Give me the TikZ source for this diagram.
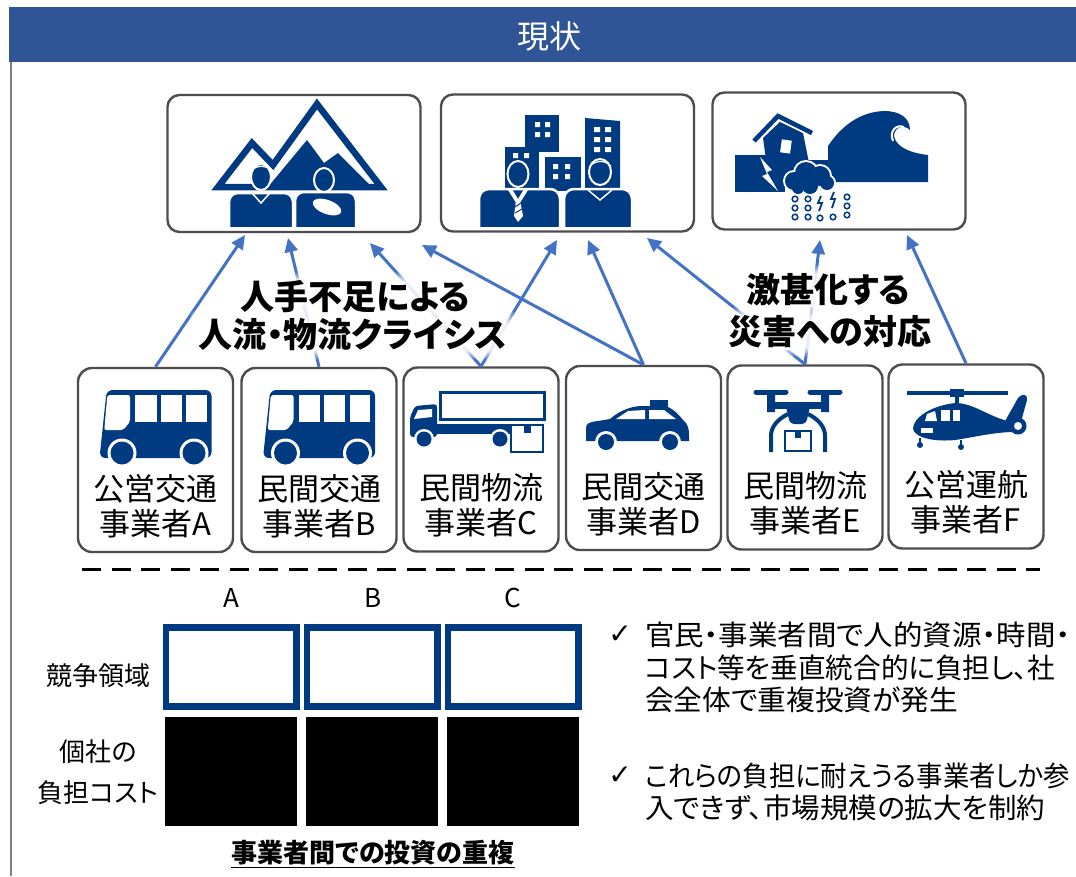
\documentclass[tikz,border=0pt]{standalone}
\usepackage{graphicx}
\usepackage{fontspec}
\setmainfont{Noto Sans CJK JP}[RawFeature=+palt]
\newfontfamily\halofont{Noto Sans CJK JP Bold}[FakeBold=12,RawFeature=+palt]
\newfontfamily\symfont{DejaVu Sans}
\usetikzlibrary{arrows.meta,calc}

\definecolor{bandblue}{RGB}{47,85,151}
\definecolor{navy}{RGB}{0,58,128}
\definecolor{linkblue}{RGB}{68,114,196}
\definecolor{framegray}{RGB}{77,77,77}
\definecolor{railgray}{RGB}{128,128,128}

\pgfdeclarelayer{glow}
\pgfdeclarelayer{caption}
\pgfsetlayers{main,glow,caption}

% bold caption over a fattened white copy, so the arrows fade out behind it
\newcommand\haloed[3]{%
  \node[crisis] (#1) at (#2) {\rlap{\mdseries\halofont\color{white}#3}#3};%
}
% one line of running text set to a given measure
\newcommand\measured[2]{\resizebox{#1}{\height}{#2}}

\tikzset{
  panel/.style={draw=framegray, line width=2.4pt, rounded corners=12pt,
    minimum width=253pt, minimum height=137pt, inner sep=0pt},
  firm/.style={draw=framegray, line width=2.4pt, rounded corners=14pt,
    minimum width=155pt, minimum height=184pt, inner sep=0pt},
  firmtext/.style={font=\fontsize{31}{35}\selectfont, align=center, inner sep=0pt},
  link/.style={draw=linkblue, line width=3pt, -{Triangle[length=14pt,width=13pt]}},
  crisis/.style={font=\bfseries\fontsize{34}{40}\selectfont, inner sep=0pt},
  small/.style={font=\fontsize{26}{30}\selectfont, inner sep=0pt},
  note/.style={font=\fontsize{28}{30}\selectfont, inner sep=0pt, anchor=west},
  tick/.style={font=\symfont\fontsize{28}{30}\selectfont, inner sep=0pt},
  bus/.pic={
    \fill[navy, rounded corners=6pt] (-48.8,-34) -- (56,-34) -- (56,34) -- (-56,34) -- cycle;
    \fill[white, rounded corners=2pt] (-48.2,-29) -- (-25.5,-29) -- (-25.5,-2.3) -- (-32.2,6) -- (-51.2,6) -- cycle;
    \fill[white] (-20.5,-29) rectangle (1.2,-2.3);
    \fill[white] (5.2,-29) rectangle (26.2,-2.3);
    \fill[white] (30.5,-29) rectangle (51.2,-2.3);
    \fill[white] (-33.5,29) circle (14.5pt) (38.5,29) circle (14.5pt);
    \fill[navy] (-33.5,29) circle (11.5pt) (38.5,29) circle (11.5pt);
  }
}

\begin{document}
\begin{tikzpicture}[x=1pt,y=-1pt]
\useasboundingbox (0,0) rectangle (1076,876);
\fill[white] (0,0) rectangle (1076,876);

% title band and left rail
\fill[bandblue] (9,7) rectangle (1076,62);
\node[text=white, font=\fontsize{32}{36}\selectfont, inner sep=0pt] (title) at (549,36) {現状};
\draw[railgray, line width=2pt] (11,62) -- (11,876);

% upper panels
\node[panel] (mount) at (294,163.5) {};
\node[panel] (city) at (567.5,163) {};
\node[panel] (hazard) at (839,161) {};

% mountains with residents
\draw[navy, line width=6.5pt, line join=miter] (218,187) -- (252,143) -- (273,165) -- (317,104) -- (381,187) -- cycle;
\fill[navy] (268,187) -- (307,140) -- (324,163) -- (338,153) -- (372,187) -- cycle;
\begin{scope}
  \clip (200,140) rectangle (400,226);
  \fill[navy, draw=white, line width=2.5pt, rounded corners=9pt] (229,193) rectangle (293,245);
  \fill[navy, draw=white, line width=2pt] (261,177) ellipse (10pt and 13pt);
  \draw[white, line width=1.2pt] (252,170) .. controls (257,165) and (265,165) .. (271,170);
  \draw[white, line width=1.5pt] (252,193) -- (261,203) -- (270,193);
  \fill[navy, draw=white, line width=2.5pt, rounded corners=9pt] (295,192) rectangle (356,245);
  \fill[navy, draw=white, line width=2pt] (324,180) ellipse (10pt and 12pt);
  \fill[white, rotate around={-20:(327,207)}] (327,207) ellipse (15pt and 7pt);
\end{scope}

% office towers with workers
\fill[navy] (525,115) rectangle (559,152);
\fill[white] (535,122) rectangle (540,127) (545,122) rectangle (550,127)
             (535,132) rectangle (540,137) (545,132) rectangle (550,137);
\fill[navy] (585,118) -- (620,121) -- (620,191) -- (585,191) -- cycle;
\foreach \r in {127,137,147}
  \fill[white] (594,\r) rectangle (600,\r+5) (605,\r) rectangle (611,\r+5);
\fill[navy] (505,147) rectangle (539,191);
\fill[white] (513,153) rectangle (518,158) (524,153) rectangle (529,158);
\fill[navy] (545,157) rectangle (581,191);
\fill[white] (553,164) rectangle (558,169) (565,164) rectangle (570,169)
             (553,174) rectangle (558,179) (565,174) rectangle (570,179);
\begin{scope}
  \clip (470,140) rectangle (640,226);
  \fill[navy, draw=white, line width=2.5pt, rounded corners=10pt] (479,189) rectangle (560,245);
  \fill[navy, draw=white, line width=2pt] (518,174) ellipse (10.5pt and 13pt);
  \fill[white] (508,190) -- (518,206) -- (528,190) -- (524,189) -- (518,199) -- (512,189) -- cycle;
  \fill[white] (516,200) -- (520,200) -- (523,216) -- (518,222) -- (514,216) -- cycle;
  \draw[navy, line width=1pt] (515,207) -- (521,203) (515,213) -- (522,209);
  \fill[navy, draw=white, line width=2.5pt, rounded corners=10pt] (564,189) rectangle (632,245);
  \fill[navy, draw=white, line width=2pt] (600,172) ellipse (11pt and 13pt);
  \draw[white, line width=1.2pt] (590,166) .. controls (596,160) and (605,160) .. (611,166);
  \draw[white, line width=1.5pt] (588,190) -- (600,200) -- (612,190);
\end{scope}

% quake, storm and tsunami
\fill[navy] (735,155) rectangle (785,192);
\fill[navy] (785,160) rectangle (830,182);
\fill[navy] (828,182) -- (828,146) .. controls (840,128) and (858,112) .. (884,111)
  .. controls (900,111) and (910,118) .. (910,130)
  .. controls (904,124) and (894,127) .. (894,136)
  .. controls (896,147) and (910,153) .. (928,155) -- (928,182) -- cycle;
\draw[white, line width=2pt] (904,127) .. controls (896,124) and (889,131) .. (893,141);
\fill[navy] (763,138) -- (780,122) -- (803,133) -- (810,168) -- (768,174) -- cycle;
\draw[white, line width=8pt] (754,141) -- (778,116) -- (812,133);
\draw[navy, line width=4.5pt] (754,141) -- (778,116) -- (812,133);
\fill[white, rotate around={-8:(786,146)}] (781,140) rectangle (791,153);
\fill[white] (760,157) -- (772,170) -- (767,172) -- (778,191) -- (762,176) -- (767,174) -- cycle;
\foreach \cx/\cy/\cr in {794/181/9, 806/173/11, 820/176/10, 827/183/7, 810/186/8, 798/188/6}
  \fill[white] (\cx,\cy) circle (\cr pt + 2pt);
\foreach \cx/\cy/\cr in {794/181/9, 806/173/11, 820/176/10, 827/183/7, 810/186/8, 798/188/6}
  \fill[navy] (\cx,\cy) circle (\cr pt);
\foreach \dx/\dy in {795/199, 795/208, 795/217, 808/199, 808/208, 808/217, 820/218, 833/217, 847/197, 847/206, 847/215}
  \draw[navy, line width=1.5pt, fill=white] (\dx,\dy) circle (2.8pt);
\draw[navy, line width=1.8pt] (821,196) -- (818,203) -- (822,203) -- (819,211);
\draw[navy, line width=1.8pt] (834,192) -- (831,199) -- (835,199) -- (832,208);

% operators
\node[firm] (fa) at (155.5,460) {};
\node[firm] (fb) at (319,460) {};
\node[firm] (fc) at (481,459.5) {};
\node[firm] (fd) at (643.5,458) {};
\node[firm] (fe) at (805,457.5) {};
\node[firm] (ff) at (966,456.5) {};

\node[firmtext] (la) at ($(fa.center)+(0,46)$) {公営交通\\事業者A};
\node[firmtext] (lb) at ($(fb.center)+(0,46)$) {民間交通\\事業者B};
\node[firmtext] (lc) at ($(fc.center)+(0,46)$) {民間物流\\事業者C};
\node[firmtext] (ld) at ($(fd.center)+(0,46)$) {民間交通\\事業者D};
\node[firmtext] (le) at ($(fe.center)+(0,46)$) {民間物流\\事業者E};
\node[firmtext] (lf) at ($(ff.center)+(0,46)$) {公営運航\\事業者F};

% buses
\pic at ($(fa.center)+(0,-36)$) {bus};
\pic at ($(fb.center)+(0,-36)$) {bus};

% truck with parcel
\draw[navy, line width=3pt] (440,392) rectangle (544,419);
\fill[navy] (436,424) rectangle (512,434);
\fill[navy, rounded corners=3pt] (410,437) -- (410,417) -- (415,406) -- (437,404) -- (437,437) -- cycle;
\fill[white] (414,419) -- (418,410) -- (432,409) -- (432,417) -- cycle;
\fill[white] (424,439) circle (10pt) (500,439) circle (10pt);
\fill[navy] (424,439) circle (7.5pt) (500,439) circle (7.5pt);
\draw[navy, line width=2.5pt, fill=white] (511,425) rectangle (543,452);
\fill[navy] (524,425) rectangle (531,433);

% taxi
\fill[navy] (586,441) -- (586,428) .. controls (586,423) and (590,422) .. (598,421) -- (610,419)
  .. controls (618,412) and (628,407) .. (640,406) -- (664,406)
  .. controls (672,407) and (678,414) .. (684,421)
  .. controls (688,424) and (689,430) .. (689,434) -- (689,441) -- cycle;
\fill[navy] (650,400) rectangle (668,407);
\fill[white] (616,419) -- (628,411) -- (645,410) -- (645,419) -- cycle;
\fill[white] (649,410) -- (664,410) -- (676,419) -- (649,419) -- cycle;
\fill[white] (606,442) circle (11pt) (670,442) circle (11pt);
\fill[navy] (606,442) circle (8pt) (670,442) circle (8pt);

% delivery drone
\draw[navy, line width=5pt, line cap=round] (756,392) -- (786,392) (810,392) -- (840,392);
\fill[navy] (767,391) rectangle (775,412) (821,391) rectangle (829,412);
\fill[navy] (767,402) rectangle (829,409);
\fill[navy, rounded corners=4pt] (785,402) -- (811,402) -- (806,424) -- (790,424) -- cycle;
\draw[navy, line width=4pt] (788,414) .. controls (776,420) and (771,428) .. (771,436) -- (771,452);
\draw[navy, line width=4pt] (808,414) .. controls (820,420) and (825,428) .. (825,436) -- (825,452);
\draw[navy, line width=2.8pt, fill=white] (785,431) rectangle (811,451);
\fill[navy] (795,431) rectangle (801,438);

% helicopter
\draw[navy, line width=4pt] (907,393) -- (1008,393);
\fill[navy] (950,389) rectangle (964,397);
\fill[navy] (955,397) rectangle (959,405);
\fill[navy] (913,429) .. controls (913,418) and (930,406) .. (955,403)
  .. controls (972,403) and (985,414) .. (1004,420) -- (1016,424) -- (1014,432)
  .. controls (995,432) and (975,437) .. (955,440)
  .. controls (935,442) and (915,438) .. (913,429) -- cycle;
\fill[navy] (1004,423) -- (1018,398) .. controls (1022,393) and (1028,394) .. (1027,400) -- (1022,418) -- (1016,428) -- cycle;
\fill[navy] (1018,426) circle (8.5pt);
\fill[white] (1018,426) circle (4pt);
\fill[white] (927,414) -- (935,411) -- (937,421) -- (925,421) -- cycle;
\fill[white] (941,410) rectangle (950,421);
\fill[white] (953,410) rectangle (960,421);
\fill[white] (921,428) rectangle (933,433);
\draw[navy, line width=2pt] (920,438) -- (920,444) (961,440) -- (961,446);
\fill[navy] (920,445) circle (3pt) (961,447) circle (3pt);

% who carries which burden
\coordinate (m1) at (245,235);
\coordinate (m2) at (288,238);
\coordinate (m3) at (370,243);
\coordinate (m4) at (422,245);
\coordinate (c3) at (557,240);
\coordinate (c4) at (588,240);
\coordinate (c5) at (647,238);
\coordinate (h5) at (820,240);
\coordinate (h6) at (907,235);
\draw[link] (fa.north) -- (m1);
\draw[link] (fb.north) -- (m2);
\draw[link] (fc.north) -- (m3);
\draw[link] (fd.north) -- (m4);
\draw[link] (fc.north) -- (c3);
\draw[link] (fd.north) -- (c4);
\draw[link] (fe.north) -- (c5);
\draw[link] (fe.north) -- (h5);
\draw[link] (ff.north) -- (h6);

% captions over a soft white haze
\begin{pgfonlayer}{caption}
  \haloed{crisisA}{355,297}{人手不足による}
  \haloed{crisisB}{353,335}{人流・物流クライシス}
  \haloed{crisisC}{828,290}{激甚化する}
  \haloed{crisisD}{830,332}{災害への対応}
\end{pgfonlayer}
\begin{pgfonlayer}{glow}
  \foreach \n in {crisisA,crisisB,crisisC,crisisD}
    \foreach \g/\o in {8/0.2,6/0.25,4/0.3,2/0.4,0/0.5}
      \fill[white, fill opacity=\o, rounded corners=6pt]
        ($(\n.south west)+(-\g,\g)$) rectangle ($(\n.north east)+(\g,-\g)$);
\end{pgfonlayer}

% divider
\draw[black, line width=3pt, dash pattern=on 19pt off 10.5pt] (82,569) -- (1040,569);

% duplicated investment chart
\node[small] (colA) at (231,598) {A};
\node[small] (colB) at (373,598) {B};
\node[small] (colC) at (513,598) {C};
\node[small] (rowT) at (98,676) {競争領域};
\node[small, align=center, font=\fontsize{26}{41}\selectfont] (rowB) at (98,772) {個社の\\負担コスト};
\foreach \x in {166,307,448}
  \draw[navy, line width=6.5pt] (\x,627.5) rectangle (\x+130.5,706.5);
\foreach \x in {165,306,447}
  \fill[black] (\x,717) rectangle (\x+132,826);
\node[small, font=\bfseries\fontsize{26}{30}\selectfont] (dup) at (373,853) {事業者間での投資の重複};
\draw[line width=1.6pt] ($(dup.south west)+(0,2)$) -- ($(dup.south east)+(0,2)$);

% findings
\node[tick] (ck1) at (620,635) {✓};
\node[note] (n1a) at (645,635) {\measured{425pt}{官民・事業者間で人的資源・時間・}};
\node[note] (n1b) at (645,668) {\measured{410pt}{コスト等を垂直統合的に負担し、社}};
\node[note] (n1c) at (645,700) {\measured{313pt}{会全体で重複投資が発生}};
\node[tick] (ck2) at (620,776) {✓};
\node[note] (n2a) at (645,776) {\measured{425pt}{これらの負担に耐えうる事業者しか参}};
\node[note] (n2b) at (645,808) {\measured{400pt}{入できず、市場規模の拡大を制約}};
\end{tikzpicture}
\end{document}
